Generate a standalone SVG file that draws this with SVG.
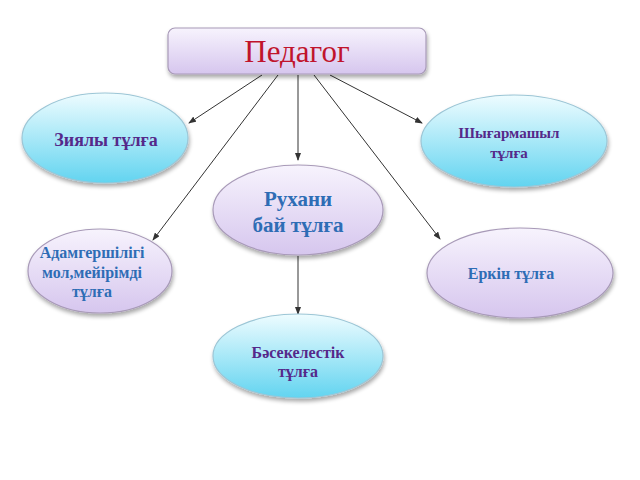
<svg xmlns="http://www.w3.org/2000/svg" width="640" height="480" viewBox="0 0 640 480">
<defs>
<linearGradient id="lav" x1="0" y1="0" x2="0" y2="1">
<stop offset="0" stop-color="#f7f3fd"/>
<stop offset="1" stop-color="#d6c6ee"/>
</linearGradient>
<linearGradient id="cyan" x1="0" y1="0" x2="0" y2="1">
<stop offset="0" stop-color="#eefcff"/>
<stop offset="1" stop-color="#62d4f0"/>
</linearGradient>
<filter id="sh" x="-20%" y="-20%" width="140%" height="150%">
<feGaussianBlur in="SourceAlpha" stdDeviation="2"/>
<feOffset dx="1" dy="3"/>
<feComponentTransfer><feFuncA type="linear" slope="0.35"/></feComponentTransfer>
<feMerge><feMergeNode/><feMergeNode in="SourceGraphic"/></feMerge>
</filter>
<marker id="arr" markerWidth="8" markerHeight="6" refX="7" refY="3" orient="auto" markerUnits="userSpaceOnUse">
<path d="M0,0 L8,3 L0,6 Z" fill="#333"/>
</marker>
</defs>
<style>
.lav{fill:url(#lav);stroke:#a89ab8;stroke-width:1.2;filter:url(#sh)}
.cy{fill:url(#cyan);stroke:#9cc6d6;stroke-width:1.2;filter:url(#sh)}
.pt{font-family:"Liberation Serif","Times New Roman",serif;font-weight:bold;fill:#55298a;text-anchor:middle}
.bt{font-family:"Liberation Serif","Times New Roman",serif;font-weight:bold;fill:#2e6db5;text-anchor:middle}
.con line{stroke:#333;stroke-width:1;marker-end:url(#arr)}
</style>
<rect width="640" height="480" fill="#fff"/>
<g class="con">
<line x1="262" y1="75" x2="189" y2="123"/>
<line x1="278" y1="75" x2="153" y2="240"/>
<line x1="298" y1="75" x2="298" y2="160"/>
<line x1="314" y1="75" x2="440" y2="239"/>
<line x1="330" y1="75" x2="422" y2="123"/>
<line x1="298" y1="256" x2="298" y2="314"/>
</g>
<g id="pedagog">
<rect x="168" y="28" width="258" height="46" rx="7" class="lav"/>
<text x="297" y="62" font-family="'Liberation Serif','Times New Roman',serif" font-size="31" fill="#c0142c" text-anchor="middle">Педагог</text>
</g>
<g id="ziyaly">
<ellipse cx="105" cy="138" rx="83" ry="45" class="cy"/>
<text x="106" y="146" class="pt" font-size="18">Зиялы тұлға</text>
</g>
<g id="shygarmashyl">
<ellipse cx="514" cy="141" rx="93" ry="46" class="cy"/>
<text x="509" y="138" class="pt" font-size="15">Шығармашыл</text>
<text x="509" y="158" class="pt" font-size="15">тұлға</text>
</g>
<g id="rukhani">
<ellipse cx="298" cy="210" rx="85" ry="45" class="lav"/>
<text x="298" y="206" class="bt" font-size="21">Рухани</text>
<text x="298" y="232" class="bt" font-size="21">бай тұлға</text>
</g>
<g id="adamgershilik">
<ellipse cx="100" cy="271" rx="72" ry="42" class="lav"/>
<text x="92" y="258" class="bt" font-size="16">Адамгершілігі</text>
<text x="92" y="278" class="bt" font-size="16">мол,мейірімді</text>
<text x="92" y="297" class="bt" font-size="16">тұлға</text>
</g>
<g id="erkin">
<ellipse cx="520" cy="273" rx="93" ry="45" class="lav"/>
<text x="511" y="279" class="bt" font-size="16">Еркін тұлға</text>
</g>
<g id="basekelestik">
<ellipse cx="298" cy="356" rx="85" ry="42" class="cy"/>
<text x="298" y="358" class="pt" font-size="16">Бәсекелестік</text>
<text x="298" y="377" class="pt" font-size="16">тұлға</text>
</g>
</svg>
